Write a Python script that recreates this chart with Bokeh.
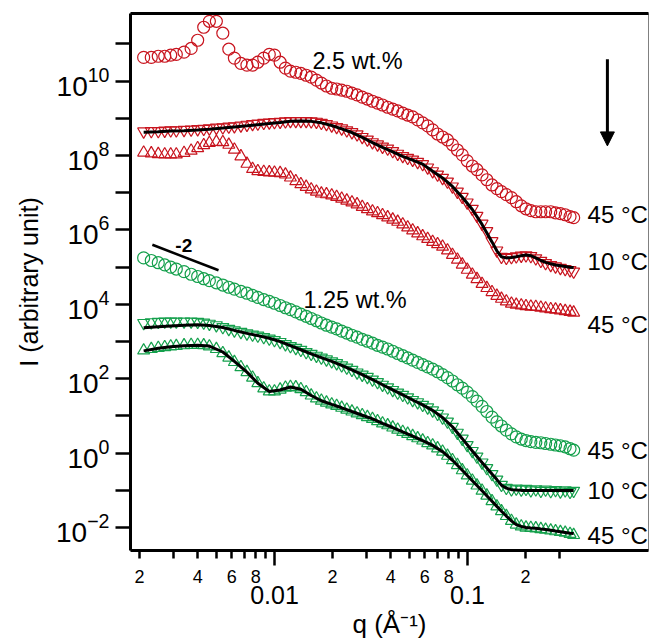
import numpy as np
from bokeh.plotting import figure
from bokeh.models import (FixedTicker, LogAxis, Range1d, Arrow, NormalHead,
                          ColumnDataSource, LogTickFormatter)
from bokeh.embed import file_html
from bokeh.resources import INLINE
from bokeh.core.properties import value

# ---------------- data (log10 of intensity) ----------------
q = [0.0021, 0.0023, 0.0025, 0.0027, 0.0029, 0.0031, 0.0034, 0.0037, 0.0040, 0.0043,
     0.0046, 0.0050, 0.0054, 0.0058, 0.0062, 0.0067, 0.0072, 0.0077, 0.0082, 0.0088,
     0.0094, 0.0100, 0.0107, 0.0114, 0.0121, 0.0129, 0.0137, 0.0146, 0.0155, 0.0165,
     0.0175, 0.0186, 0.0198, 0.0210, 0.0223, 0.0237, 0.0252, 0.0268, 0.0285, 0.0303,
     0.0322, 0.0342, 0.0363, 0.0386, 0.0410, 0.0435, 0.0462, 0.0490, 0.0520, 0.0552,
     0.0586, 0.0622, 0.0660, 0.0700, 0.0743, 0.0788, 0.0836, 0.0887, 0.0940, 0.0997,
     0.106, 0.112, 0.119, 0.126, 0.134, 0.142, 0.150, 0.159, 0.169, 0.179,
     0.190, 0.201, 0.213, 0.226, 0.240, 0.254, 0.270, 0.286, 0.303, 0.321,
     0.340, 0.355]

# 2.5 wt.%  45 C (circles)
red_45_circ = [10.64, 10.64, 10.67, 10.67, 10.70, 10.72, 10.78, 10.88, 11.10, 11.45,
               11.61, 11.61, 11.29, 10.86, 10.62, 10.48, 10.43, 10.43, 10.51, 10.62,
               10.72, 10.70, 10.51, 10.35, 10.27, 10.24, 10.21, 10.16, 10.11, 10.03,
               9.95, 9.87, 9.81, 9.79, 9.76, 9.73, 9.68, 9.63, 9.57, 9.52,
               9.46, 9.41, 9.36, 9.30, 9.25, 9.20, 9.14, 9.09, 9.04, 8.96,
               8.88, 8.80, 8.69, 8.58, 8.50, 8.42, 8.29, 8.15, 8.02, 7.86,
               7.72, 7.62, 7.48, 7.35, 7.21, 7.11, 7.03, 6.95, 6.87, 6.76,
               6.65, 6.57, 6.52, 6.49, 6.49, 6.49, 6.49, 6.46, 6.44, 6.41,
               6.36, 6.33]
# 2.5 wt.%  10 C (inverted triangles)
red_10 = [8.65, 8.66, 8.66, 8.67, 8.68, 8.68, 8.69, 8.70, 8.71, 8.72,
          8.73, 8.75, 8.76, 8.78, 8.79, 8.81, 8.83, 8.85, 8.86, 8.88,
          8.89, 8.90, 8.91, 8.92, 8.93, 8.93, 8.93, 8.93, 8.92, 8.91,
          8.88, 8.85, 8.81, 8.77, 8.73, 8.68, 8.63, 8.57, 8.50, 8.43,
          8.36, 8.30, 8.24, 8.19, 8.12, 8.05, 7.99, 7.94, 7.89, 7.83,
          7.77, 7.68, 7.58, 7.49, 7.40, 7.30, 7.17, 7.03, 6.89, 6.74,
          6.57, 6.38, 6.17, 5.97, 5.70, 5.45, 5.28, 5.25, 5.27, 5.29,
          5.31, 5.32, 5.30, 5.24, 5.17, 5.11, 5.06, 5.02, 4.98, 4.95,
          4.92, 4.88]
# 2.5 wt.%  45 C (triangles)
red_45_tri = [8.08, 8.06, 8.04, 8.03, 8.03, 8.03, 8.07, 8.13, 8.20, 8.28,
              8.34, 8.37, 8.36, 8.29, 8.16, 7.98, 7.78, 7.64, 7.58, 7.56,
              7.55, 7.54, 7.53, 7.49, 7.41, 7.31, 7.23, 7.16, 7.09, 7.03,
              6.98, 6.96, 6.93, 6.89, 6.84, 6.79, 6.74, 6.69, 6.62, 6.56,
              6.50, 6.45, 6.40, 6.34, 6.28, 6.22, 6.15, 6.07, 5.99, 5.91,
              5.83, 5.76, 5.68, 5.62, 5.55, 5.45, 5.33, 5.20, 5.07, 4.93,
              4.80, 4.68, 4.55, 4.44, 4.33, 4.23, 4.15, 4.08, 4.02, 3.99,
              3.97, 3.95, 3.94, 3.93, 3.91, 3.89, 3.87, 3.86, 3.84, 3.82,
              3.80, 3.78]
# 1.25 wt.%  45 C (circles)
green_45_circ = [5.25, 5.18, 5.12, 5.06, 5.00, 4.95, 4.88, 4.81, 4.75, 4.69,
                 4.64, 4.58, 4.52, 4.46, 4.41, 4.35, 4.30, 4.24, 4.19, 4.13,
                 4.08, 4.03, 3.97, 3.91, 3.86, 3.80, 3.74, 3.68, 3.62, 3.56,
                 3.50, 3.44, 3.39, 3.34, 3.28, 3.23, 3.17, 3.12, 3.06, 3.01,
                 2.96, 2.90, 2.85, 2.80, 2.74, 2.68, 2.62, 2.56, 2.50, 2.44,
                 2.38, 2.32, 2.26, 2.19, 2.11, 2.03, 1.94, 1.84, 1.75, 1.64,
                 1.52, 1.40, 1.26, 1.12, 0.97, 0.84, 0.73, 0.62, 0.52, 0.44,
                 0.38, 0.34, 0.31, 0.29, 0.28, 0.26, 0.24, 0.22, 0.20, 0.17,
                 0.12, 0.08]
# 1.25 wt.%  10 C (inverted triangles)
green_10 = [3.50, 3.52, 3.53, 3.54, 3.54, 3.54, 3.54, 3.54, 3.53, 3.51,
            3.48, 3.44, 3.39, 3.34, 3.30, 3.26, 3.22, 3.19, 3.16, 3.12,
            3.08, 3.04, 2.99, 2.93, 2.88, 2.83, 2.78, 2.72, 2.67, 2.62,
            2.57, 2.52, 2.47, 2.42, 2.36, 2.30, 2.24, 2.17, 2.11, 2.05,
            1.98, 1.91, 1.84, 1.77, 1.70, 1.63, 1.57, 1.50, 1.43, 1.37,
            1.30, 1.23, 1.15, 1.06, 0.96, 0.85, 0.71, 0.55, 0.39, 0.22,
            0.06, -0.09, -0.25, -0.40, -0.56, -0.71, -0.85, -0.93, -0.97, -0.95,
            -0.98, -0.96, -1.00, -0.97, -1.01, -0.98, -1.02, -0.99, -1.03, -1.00,
            -1.04, -1.01]
# 1.25 wt.%  45 C (triangles)
green_45_tri = [2.76, 2.80, 2.83, 2.85, 2.87, 2.88, 2.90, 2.91, 2.91, 2.90,
                2.87, 2.80, 2.69, 2.57, 2.45, 2.31, 2.18, 2.03, 1.88, 1.74,
                1.66, 1.66, 1.71, 1.76, 1.78, 1.77, 1.72, 1.64, 1.55, 1.47,
                1.41, 1.36, 1.31, 1.27, 1.22, 1.17, 1.12, 1.07, 1.02, 0.97,
                0.92, 0.86, 0.80, 0.75, 0.69, 0.63, 0.57, 0.52, 0.46, 0.40,
                0.34, 0.27, 0.21, 0.13, 0.04, -0.07, -0.19, -0.32, -0.46, -0.60,
                -0.74, -0.87, -1.01, -1.14, -1.29, -1.43, -1.56, -1.69, -1.82, -1.92,
                -1.97, -2.00, -2.01, -2.02, -2.04, -2.06, -2.08, -2.10, -2.12, -2.14,
                -2.17, -2.20]

# fitted curves (black lines)
q_fit = [0.0021, 0.0025, 0.0029, 0.0034, 0.0040, 0.0046, 0.0054, 0.0062, 0.0072, 0.0082,
         0.0094, 0.0107, 0.0121, 0.0137, 0.0155, 0.0175, 0.0198, 0.0223, 0.0252, 0.0285,
         0.0322, 0.0363, 0.0410, 0.0462, 0.0520, 0.0586, 0.0660, 0.0743, 0.0836, 0.0940,
         0.106, 0.119, 0.134, 0.142, 0.150, 0.159, 0.169, 0.179, 0.190, 0.201,
         0.213, 0.226, 0.240, 0.254, 0.270, 0.286, 0.303, 0.321, 0.340, 0.355]
fit_red_10 = [8.63, 8.64, 8.66, 8.67, 8.69, 8.71, 8.74, 8.77, 8.80, 8.83,
              8.86, 8.89, 8.92, 8.93, 8.92, 8.88, 8.81, 8.72, 8.62, 8.49,
              8.35, 8.22, 8.10, 7.98, 7.88, 7.77, 7.58, 7.40, 7.17, 6.88,
              6.55, 6.15, 5.68, 5.44, 5.28, 5.25, 5.26, 5.28, 5.31, 5.33,
              5.31, 5.25, 5.18, 5.13, 5.09, 5.06, 5.04, 5.02, 5.00, 4.99]
fit_green_10 = [3.37, 3.40, 3.42, 3.44, 3.45, 3.43, 3.38, 3.30, 3.22, 3.16,
                3.09, 3.00, 2.89, 2.78, 2.67, 2.57, 2.47, 2.36, 2.24, 2.11,
                1.98, 1.84, 1.70, 1.57, 1.43, 1.30, 1.15, 0.96, 0.71, 0.39,
                0.06, -0.25, -0.56, -0.71, -0.86, -0.94, -0.98, -0.99, -1.00, -1.00,
                -1.00, -1.00, -1.00, -1.00, -1.00, -1.00, -1.00, -1.00, -1.00, -1.00]
fit_green_45 = [2.75, 2.82, 2.86, 2.89, 2.90, 2.88, 2.72, 2.47, 2.18, 1.88,
                1.66, 1.70, 1.78, 1.72, 1.55, 1.41, 1.31, 1.22, 1.12, 1.02,
                0.92, 0.80, 0.69, 0.57, 0.46, 0.34, 0.21, 0.04, -0.19, -0.46,
                -0.74, -1.01, -1.29, -1.43, -1.56, -1.69, -1.82, -1.92, -1.97, -2.00,
                -2.01, -2.02, -2.04, -2.05, -2.07, -2.09, -2.11, -2.13, -2.15, -2.16]

# annotations
temp_labels = ["45 °C", "10 °C", "45 °C", "45 °C", "10 °C", "45 °C"]
temp_label_logI = [6.41, 5.15, 3.46, 0.06, -1.01, -2.22]
temp_label_q = 0.419
conc_labels = ["2.5 wt.%", "1.25 wt.%"]
conc_label_q = [0.01574, 0.01413]
conc_label_logI = [10.54, 4.11]
slope = -2
slope_q = [0.00233, 0.00513]
slope_I0 = 4.0e5

x_minor_ticks = [0.002, 0.003, 0.004, 0.005, 0.006, 0.007, 0.008, 0.009,
                 0.02, 0.03, 0.04, 0.05, 0.06, 0.07, 0.08, 0.09, 0.2, 0.3]
x_minor_labels = ["2", "", "4", "", "6", "", "8", "",
                  "2", "", "4", "", "6", "", "8", "", "2", ""]
x_decade_ticks = [0.01, 0.1]
x_decade_labels = ["0.01", "0.1"]
y_major_ticks = [1e-2, 1e0, 1e2, 1e4, 1e6, 1e8, 1e10]
y_minor_ticks = [1e-1, 1e1, 1e3, 1e5, 1e7, 1e9, 1e11]

RED = "#c8141e"
GREEN = "#14a04c"
FONT = "Liberation Sans"

src = ColumnDataSource(dict(
    q=q,
    r45c=10 ** np.array(red_45_circ),
    r10=10 ** np.array(red_10),
    r45t=10 ** np.array(red_45_tri),
    g45c=10 ** np.array(green_45_circ),
    g10=10 ** np.array(green_10),
    g45t=10 ** np.array(green_45_tri),
))
fit_src = ColumnDataSource(dict(
    q=q_fit,
    r10=10 ** np.array(fit_red_10),
    g10=10 ** np.array(fit_green_10),
    g45=10 ** np.array(fit_green_45),
))

p = figure(width=650, height=641, x_axis_type="log", y_axis_type="log",
           x_range=Range1d(0.001795, 0.867), y_range=Range1d(2.42e-3, 6.6e11),
           output_backend="svg", toolbar_location=None,
           min_border_left=130, min_border_right=2, min_border_top=13,
           min_border_bottom=89)
p.grid.visible = False
p.outline_line_color = "#808080"
p.outline_line_width = 1
p.background_fill_color = "white"
p.border_fill_color = "white"

# series
MS = 12
LW = 1.2
p.scatter("q", "r45c", source=src, marker="circle", size=MS, fill_color=None,
          line_color=RED, line_width=LW)
p.scatter("q", "r10", source=src, marker="inverted_triangle", size=MS, fill_color=None,
          line_color=RED, line_width=LW)
p.scatter("q", "r45t", source=src, marker="triangle", size=MS, fill_color=None,
          line_color=RED, line_width=LW)
p.scatter("q", "g45c", source=src, marker="circle", size=MS, fill_color=None,
          line_color=GREEN, line_width=LW)
p.scatter("q", "g10", source=src, marker="inverted_triangle", size=MS, fill_color=None,
          line_color=GREEN, line_width=LW)
p.scatter("q", "g45t", source=src, marker="triangle", size=MS, fill_color=None,
          line_color=GREEN, line_width=LW)
for col in ["r10", "g10", "g45"]:
    p.line("q", col, source=fit_src, line_color="black", line_width=3)

# slope -2 guide
slope_I = [slope_I0, slope_I0 * (slope_q[1] / slope_q[0]) ** slope]
p.line(slope_q, slope_I, line_color="black", line_width=2.5)
p.text(x=[np.sqrt(slope_q[0] * slope_q[1]) * 0.98], y=[10 ** 5.57], text=["-2"],
       text_font=value(FONT), text_font_size=value("19px"), text_font_style="bold",
       text_align="center", text_baseline="middle", text_color="black")

# temperature labels
p.text(x=[temp_label_q] * len(temp_labels), y=list(10 ** np.array(temp_label_logI)),
       text=temp_labels, text_font=value(FONT), text_font_size=value("24px"),
       text_align="left", text_baseline="middle", text_color="black")
# concentration labels
p.text(x=conc_label_q, y=list(10 ** np.array(conc_label_logI)), text=conc_labels,
       text_font=value(FONT), text_font_size=value("23.5px"),
       text_align="left", text_baseline="middle", text_color="black")

# arrow
p.add_layout(Arrow(end=NormalHead(size=14, fill_color="black", line_color="black"),
                   x_start=0.531, y_start=10 ** 10.59, x_end=0.531, y_end=10 ** 8.26,
                   line_width=3, line_color="black"))

# y axis
ya = p.yaxis[0]
ya.ticker = FixedTicker(ticks=y_major_ticks, minor_ticks=y_minor_ticks)
ya.formatter = LogTickFormatter()
ya.major_tick_out = 15
ya.major_tick_in = 0
ya.minor_tick_out = 15
ya.minor_tick_in = 0
ya.major_tick_line_width = 2.5
ya.minor_tick_line_width = 2.5
ya.axis_line_width = 3
ya.major_label_text_font = FONT
ya.major_label_text_font_size = "28px"
ya.major_label_text_color = "black"
ya.major_label_standoff = 6
ya.axis_label = "I (arbitrary unit)"
ya.axis_label_text_font = FONT
ya.axis_label_text_font_size = "25px"
ya.axis_label_text_font_style = "normal"
ya.axis_label_text_color = "black"
ya.axis_label_standoff = 10

# x axis (minor labelled)
xa = p.xaxis[0]
xa.ticker = FixedTicker(ticks=x_minor_ticks, minor_ticks=x_decade_ticks)
xa.major_label_overrides = dict(zip(x_minor_ticks, x_minor_labels))
xa.major_tick_out = 8
xa.major_tick_in = 0
xa.minor_tick_out = 15
xa.minor_tick_in = 0
xa.major_tick_line_width = 2.5
xa.minor_tick_line_width = 2.5
xa.axis_line_width = 3
xa.major_label_text_font = FONT
xa.major_label_text_font_size = "18px"
xa.major_label_text_color = "black"
xa.major_label_standoff = 4

# x axis (decade labels + axis title)
xa2 = LogAxis(ticker=FixedTicker(ticks=x_decade_ticks),
              major_label_overrides=dict(zip(x_decade_ticks, x_decade_labels)),
              major_tick_out=0, major_tick_in=0, minor_tick_out=0, minor_tick_in=0,
              axis_line_color=None, major_label_standoff=0,
              major_label_text_font=FONT, major_label_text_font_size="25px",
              major_label_text_color="black",
              axis_label="q (Å⁻¹)", axis_label_text_font=FONT,
              axis_label_text_font_size="26px", axis_label_text_font_style="normal",
              axis_label_text_color="black", axis_label_standoff=2)
p.add_layout(xa2, "below")

# top border
xa3 = LogAxis(ticker=FixedTicker(ticks=[]), major_tick_out=0, major_tick_in=0,
              minor_tick_out=0, minor_tick_in=0, major_label_text_font_size="0px",
              axis_line_width=3, axis_line_color="black")
p.add_layout(xa3, "above")

open("out.html", "w").write(file_html(p, INLINE))
